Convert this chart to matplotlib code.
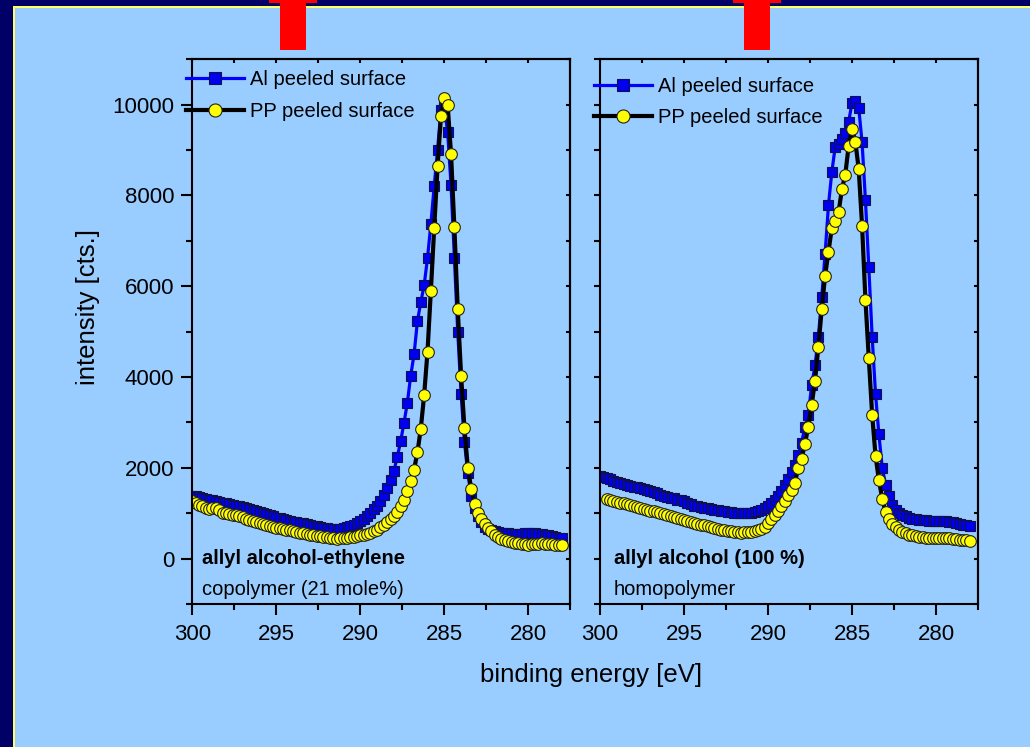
import numpy as np
import matplotlib.pyplot as plt
from matplotlib.patches import Rectangle
from matplotlib.ticker import MultipleLocator

plt.rcParams['font.family'] = ['Liberation Sans', 'DejaVu Sans']

# binding energy grid [eV] of the C1s scans, 0.2 eV steps going down
step = 0.2
start_full = 300.0
start_homo_pp = 299.6

# allyl alcohol-ethylene copolymer (21 mole%), 300.0 ... 278.0 eV
copo_al = [
    1390, 1375, 1360, 1330, 1320, 1300, 1290, 1265, 1255, 1230,
    1215, 1195, 1185, 1160, 1150, 1130, 1115, 1090, 1075, 1050,
    1025, 995, 975, 950, 935, 905, 885, 865, 845, 835,
    815, 800, 785, 775, 755, 740, 720, 710, 690, 680,
    670, 660, 655, 658, 662, 672, 690, 715, 748, 790,
    830, 880, 945, 1010, 1085, 1170, 1270, 1400, 1560, 1740,
    1930, 2240, 2580, 2990, 3430, 4030, 4500, 5230, 5650, 6020,
    6620, 7370, 8210, 9010, 9880, 9950, 9400, 8230, 6630, 5000,
    3630, 2560, 1890, 1380, 1120, 940, 800, 700, 650, 620,
    600, 590, 575, 565, 555, 545, 540, 535, 545, 560,
    570, 575, 560, 545, 540, 530, 510, 500, 485, 465,
    445,
]
copo_pp = [
    1260, 1225, 1180, 1150, 1115, 1095, 1120, 1110, 1060, 1015,
    1000, 990, 970, 950, 935, 910, 880, 860, 830, 800,
    780, 760, 740, 715, 695, 680, 665, 655, 640, 625,
    610, 592, 575, 560, 545, 530, 515, 500, 490, 478,
    466, 455, 448, 442, 445, 450, 460, 470, 482, 495,
    510, 525, 548, 575, 605, 640, 690, 740, 800, 870,
    940, 1030, 1150, 1300, 1480, 1700, 1960, 2340, 2860, 3600,
    4560, 5900, 7290, 8640, 9740, 10150, 9985, 8920, 7300, 5500,
    4030, 2870, 2000, 1540, 1200, 1010, 870, 770, 680, 600,
    530, 480, 440, 410, 390, 370, 350, 335, 320, 315,
    310, 315, 322, 330, 335, 330, 325, 318, 310, 300,
    290,
]

# allyl alcohol homopolymer (100 %)
homo_al = [
    1820, 1800, 1770, 1745, 1720, 1695, 1675, 1650, 1625, 1600,
    1585, 1570, 1560, 1535, 1510, 1485, 1460, 1435, 1410, 1390,
    1365, 1340, 1325, 1300, 1290, 1262, 1225, 1200, 1170, 1160,
    1140, 1125, 1110, 1095, 1080, 1065, 1055, 1045, 1030, 1020,
    1015, 1010, 1005, 1005, 1010, 1010, 1020, 1040, 1070, 1110,
    1160, 1220, 1290, 1370, 1480, 1630, 1760, 1900, 2060, 2290,
    2550, 2910, 3170, 3830, 4255, 4890, 5770, 6720, 7790, 8520,
    9070, 9130, 9250, 9380, 9620, 10040, 10090, 9930, 9170, 7900,
    6420, 4890, 3630, 2740, 2000, 1630, 1380, 1190, 1080, 1010,
    960, 930, 900, 880, 865, 855, 848, 840, 830, 826,
    825, 830, 826, 820, 810, 804, 790, 765, 750, 730,
    716,
]
# starts at 299.6 eV
homo_pp = [
    1320, 1290, 1265, 1250, 1230, 1215, 1200, 1175, 1155, 1130,
    1105, 1085, 1070, 1055, 1045, 1020, 995, 975, 950, 930,
    915, 900, 870, 845, 820, 800, 780, 760, 745, 730,
    710, 690, 670, 655, 640, 625, 610, 600, 590, 580,
    575, 578, 585, 595, 610, 630, 655, 700, 775, 865,
    950, 1045, 1155, 1265, 1410, 1520, 1670, 2000, 2200, 2530,
    2910, 3390, 3920, 4670, 5500, 6230, 6760, 7290, 7440, 7630,
    8140, 8460, 9090, 9470, 9180, 8580, 7330, 5700, 4410, 3170,
    2270, 1730, 1320, 1025, 865, 755, 690, 630, 590, 555,
    530, 510, 495, 480, 470, 465, 462, 462, 462, 460,
    455, 448, 445, 440, 430, 420, 410, 400, 390,
]

panels = [
    (copo_al, copo_pp, start_full, 'allyl alcohol-ethylene', 'copolymer (21 mole%)'),
    (homo_al, homo_pp, start_homo_pp, 'allyl alcohol (100 %)', 'homopolymer'),
]

W, H = 1030, 747
bg = '#99CCFF'
navy = '#000066'

fig = plt.figure(figsize=(W / 100, H / 100), dpi=100, facecolor=bg)


def px_rect(x0, y0, w, h, color):
    # rectangle given in pixels from the top-left corner
    fig.patches.append(Rectangle((x0 / W, 1 - (y0 + h) / H), w / W, h / H,
                                 transform=fig.transFigure, color=color,
                                 zorder=0, lw=0))


# slide frame
px_rect(0, 0, 13, H, navy)
px_rect(0, 0, W, 6, navy)
px_rect(13, 6, 1.5, H - 6, '#FFFF66')
px_rect(13, 6, W - 13, 1.5, '#FFFF66')
# red markers at the top
for xb in (280, 744):
    px_rect(xb, 0, 26, 50, '#FF0000')
    px_rect(xb - 11, 0, 48, 3, '#FF0000')

lefts = [192.3, 600.0]
for k, (al, pp, pp_start, title1, title2) in enumerate(panels):
    ax = fig.add_axes([lefts[k] / W, (H - 604) / H, 378 / W, 544.7 / H])
    ax.set_facecolor('none')

    e_al = start_full - step * np.arange(len(al))
    e_pp = pp_start - step * np.arange(len(pp))

    ax.plot(e_al, al, color='#0000FF', lw=2.3, marker='s', ms=7.8,
            mfc='#0000EE', mec='#10104A', mew=0.8, label='Al peeled surface')
    ax.plot(e_pp, pp, color='black', lw=3.0, marker='o', ms=8.4,
            mfc='#FFFF00', mec='#222222', mew=0.8, label='PP peeled surface')

    ax.set_xlim(300, 277.5)
    ax.set_ylim(-1000, 11000)
    ax.xaxis.set_major_locator(MultipleLocator(5))
    ax.xaxis.set_minor_locator(MultipleLocator(2.5))
    ax.yaxis.set_major_locator(MultipleLocator(2000))
    ax.yaxis.set_minor_locator(MultipleLocator(1000))
    for s in ax.spines.values():
        s.set_linewidth(1.5)

    ax.tick_params(which='both', direction='out', width=1.5,
                   labelsize=16, top=False, right=False)
    ax.tick_params(which='major', length=8, pad=5)
    ax.tick_params(axis='x', which='major', pad=6.5)
    ax.tick_params(which='minor', length=4.3)
    if k == 1:
        ax.tick_params(axis='y', labelleft=False)
        ax.tick_params(axis='y', which='both', length=4.3)

    # inward ticks on top and right
    top = ax.secondary_xaxis('top')
    top.set_xticks(np.arange(300, 277, -2.5))
    top.tick_params(direction='in', length=3, width=1.5, labeltop=False)
    rgt = ax.secondary_yaxis('right')
    rgt.set_yticks(np.arange(-1000, 11001, 1000))
    rgt.tick_params(direction='in', length=3, width=1.5, labelright=False)
    for sec in (top, rgt):
        for s in sec.spines.values():
            s.set_linewidth(1.5)

    ax.legend(loc='upper left', bbox_to_anchor=(-0.017, 0.98 - 0.012 * k),
              frameon=False, fontsize=14.5, handlelength=2.9,
              handletextpad=0.3, labelspacing=0.62, borderpad=0,
              borderaxespad=0, markerscale=1.12)

    xt = 0.026 if k == 0 else 0.037
    ax.text(xt, 0.084, title1, transform=ax.transAxes, fontsize=14.5,
            fontweight='bold', va='center', ha='left')
    ax.text(xt, 0.027, title2, transform=ax.transAxes, fontsize=14.5,
            va='center', ha='left')

fig.text(591 / W, 1 - 675 / H, 'binding energy [eV]', fontsize=18.5,
         ha='center', va='center')
fig.text(88 / W, 1 - 307 / H, 'intensity [cts.]', fontsize=18.5,
         ha='center', va='center', rotation=90)

fig.savefig('out.png', dpi=100, facecolor=bg)
